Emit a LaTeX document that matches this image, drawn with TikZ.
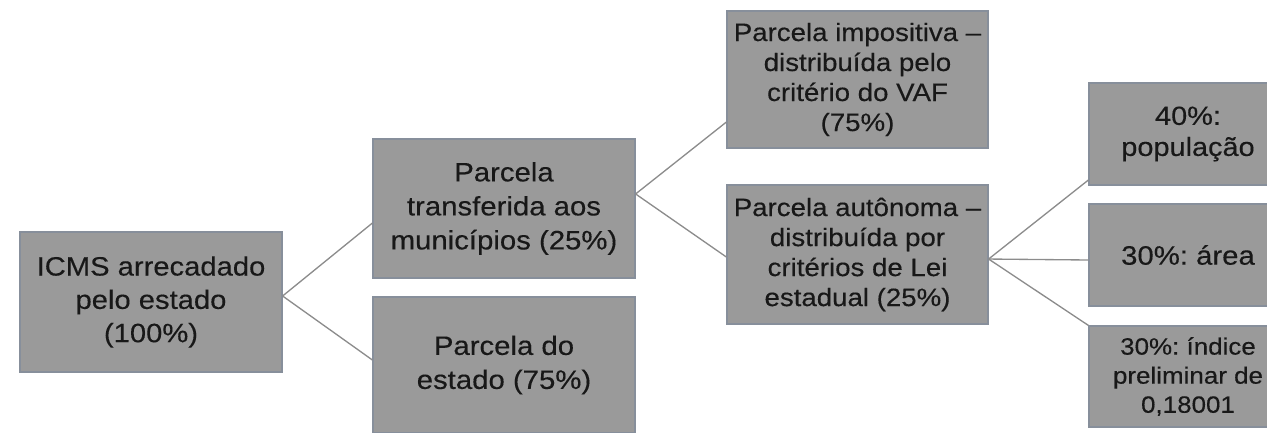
\documentclass[tikz,border=0pt]{standalone}
\usepackage{fontspec}
\setmainfont{Liberation Sans}[FakeStretch=1.1, FakeBold=0.3]
\frenchspacing
\definecolor{boxfill}{RGB}{154,154,154}
\definecolor{boxedge}{RGB}{135,143,155}
\definecolor{linkcol}{RGB}{140,140,140}
\definecolor{txt}{RGB}{24,24,24}
\tikzset{
  box/.style={draw=boxedge, fill=boxfill, line width=0.9pt, align=center, text=txt, inner sep=2pt},
  big/.style={font=\frenchspacing\fontsize{19.9pt}{25pt}\selectfont},
  bigb/.style={font=\frenchspacing\fontsize{20pt}{25.5pt}\selectfont},
  mid/.style={font=\frenchspacing\fontsize{18.85pt}{22.5pt}\selectfont},
  sml/.style={font=\frenchspacing\fontsize{17.7pt}{21.8pt}\selectfont},
  link/.style={draw=linkcol, line width=1.0pt}
}
\begin{document}
\begin{tikzpicture}[x=0.75pt, y=-0.75pt]
\useasboundingbox (0,0) rectangle (1267,432);
\node[box, big, minimum width=196.5pt, minimum height=105pt] (A) at (151,302) {ICMS arrecadado\\pelo estado\\(100\%)};
\node[box, bigb, minimum width=196.5pt, minimum height=104.25pt] (B) at (504,208.5) {Parcela\\transferida aos\\municípios (25\%)};
\node[box, bigb, minimum width=196.5pt, minimum height=102pt] (C) at (504,365) {Parcela do\\estado (75\%)};
\node[box, mid, minimum width=195.75pt, minimum height=102.75pt] (D) at (857.5,79.5) {Parcela impositiva –\\distribuída pelo\\critério do VAF\\(75\%)};
\node[box, mid, minimum width=195.75pt, minimum height=104.25pt] (E) at (857.5,254.5) {Parcela autônoma –\\distribuída por\\critérios de Lei\\estadual (25\%)};
\node[box, font=\frenchspacing\fontsize{19.7pt}{23.3pt}\selectfont, minimum width=148.5pt, minimum height=76.5pt] (F) at (1188,134) {40\%:\\população};
\node[box, bigb, minimum width=148.5pt, minimum height=76.5pt] (G) at (1188,255) {30\%: área};
\node[box, sml, minimum width=148.5pt, minimum height=75.75pt] (H) at (1188,376.5) {30\%: índice\\preliminar de\\0,18001};
\draw[link] ([yshift=4.5pt]A.east) -- ([yshift=-10.9pt]B.west);
\draw[link] ([yshift=4.5pt]A.east) -- ([yshift=3.75pt]C.west);
\draw[link] ([yshift=10.9pt]B.east) -- ([yshift=-31.9pt]D.west);
\draw[link] ([yshift=10.9pt]B.east) -- ([yshift=-1.9pt]E.west);
\draw[link] ([yshift=-3.4pt]E.east) -- ([yshift=-34.5pt]F.west);
\draw[link] ([yshift=-3.4pt]E.east) -- ([yshift=-3.75pt]G.west);
\draw[link] ([yshift=-3.4pt]E.east) -- (H.north west);
\end{tikzpicture}
\end{document}
